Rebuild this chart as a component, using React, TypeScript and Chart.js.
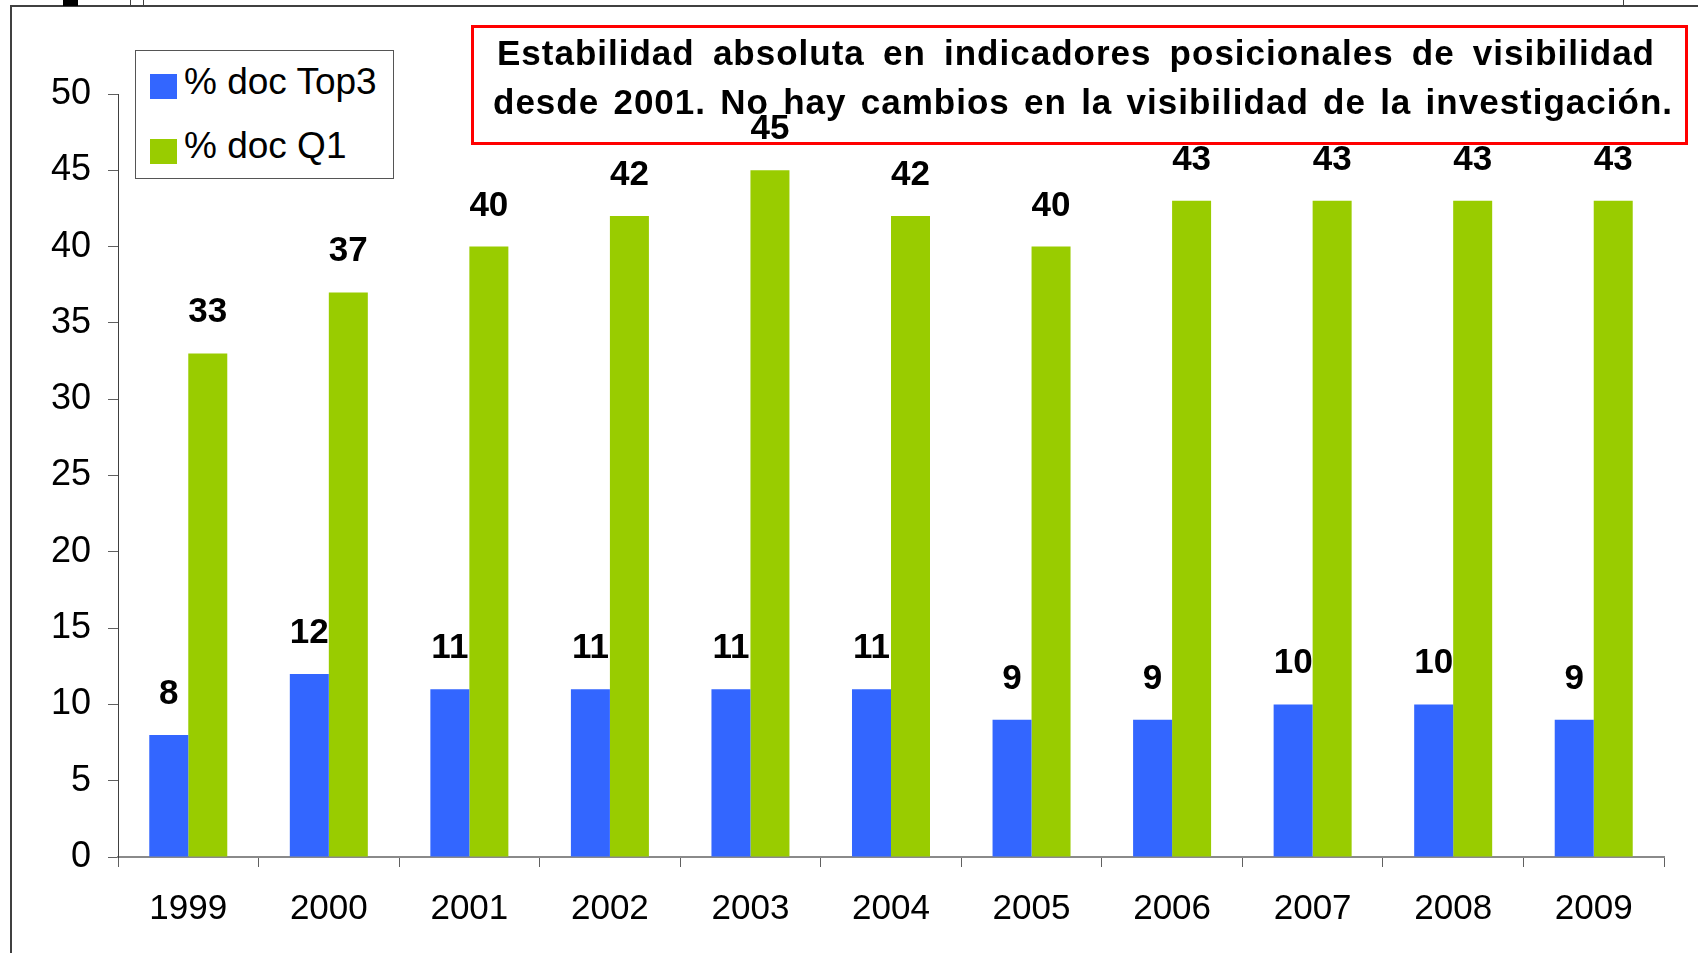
import React, { useEffect, useRef } from "react";
import { Chart, registerables } from "chart.js";

Chart.register(...registerables);

// ---- Data ----
const years = ["1999", "2000", "2001", "2002", "2003", "2004", "2005", "2006", "2007", "2008", "2009"];
const top3Values = [8, 12, 11, 11, 11, 11, 9, 9, 10, 10, 9];
const q1Values = [33, 37, 40, 42, 45, 42, 40, 43, 43, 43, 43];
const seriesNames = ["% doc Top3", "% doc Q1"];
const seriesColors = ["#3366FF", "#99CC00"];
const yMin = 0;
const yMax = 50;
const yStep = 5;
const titleLines = [
  "Estabilidad absoluta en indicadores posicionales de visibilidad",
  "desde 2001. No hay cambios en la visibilidad de la investigación.",
];

const FONT = '"Liberation Sans", Arial, sans-serif';

const valueLabels = {
  id: "valueLabels",
  afterDatasetsDraw(chart: any) {
    const ctx = chart.ctx;
    ctx.save();
    ctx.font = `bold 35px ${FONT}`;
    ctx.fillStyle = "#000";
    ctx.textAlign = "center";
    ctx.textBaseline = "alphabetic";
    chart.data.datasets.forEach((ds: any, i: number) => {
      const meta = chart.getDatasetMeta(i);
      meta.data.forEach((bar: any, j: number) => {
        ctx.fillText(String(ds.data[j]), bar.x, bar.y - 31);
      });
    });
    ctx.restore();
  },
};

export default function App() {
  const canvasRef = useRef<HTMLCanvasElement | null>(null);

  useEffect(() => {
    document.body.style.margin = "0";
    const canvas = canvasRef.current;
    if (!canvas) return;
    const chart = new Chart(canvas, {
      type: "bar",
      data: {
        labels: years,
        datasets: [
          {
            label: seriesNames[0],
            data: top3Values,
            backgroundColor: seriesColors[0],
            borderWidth: 0,
            categoryPercentage: 0.555,
            barPercentage: 1.0,
          },
          {
            label: seriesNames[1],
            data: q1Values,
            backgroundColor: seriesColors[1],
            borderWidth: 0,
            categoryPercentage: 0.555,
            barPercentage: 1.0,
          },
        ],
      },
      options: {
        animation: false,
        responsive: false,
        devicePixelRatio: 1,
        layout: { padding: { top: 94, right: 34, left: 0, bottom: 0 } },
        plugins: {
          legend: { display: false },
          title: { display: false },
          tooltip: { enabled: false },
        },
        scales: {
          x: {
            grid: {
              display: true,
              drawOnChartArea: false,
              drawTicks: true,
              tickLength: 10,
              color: "#606060",
              lineWidth: 1,
            },
            border: { display: true, color: "#8a8a8a", width: 2 },
            ticks: {
              color: "#000",
              font: { family: FONT, size: 35 },
              padding: 21,
              maxRotation: 0,
            },
            afterFit: (scale: any) => {
              scale.height = 96;
            },
          },
          y: {
            min: yMin,
            max: yMax,
            grid: {
              display: true,
              drawOnChartArea: false,
              drawTicks: true,
              tickLength: 10,
              color: "#606060",
              lineWidth: 1,
            },
            border: { display: true, color: "#404040", width: 1 },
            ticks: {
              stepSize: yStep,
              color: "#000",
              font: { family: FONT, size: 36 },
              padding: 17,
            },
            afterFit: (scale: any) => {
              scale.width = 118;
            },
          },
        },
      },
      plugins: [valueLabels],
    });
    return () => chart.destroy();
  }, []);

  const lineStyle: React.CSSProperties = {
    position: "absolute",
    fontFamily: FONT,
    fontWeight: "bold",
    fontSize: 35,
    lineHeight: "35px",
    letterSpacing: "1px",
    textAlign: "justify",
    textAlignLast: "justify" as any,
    color: "#000",
  };

  const legendText: React.CSSProperties = {
    position: "absolute",
    left: 48,
    fontFamily: FONT,
    fontSize: 37,
    lineHeight: "37px",
    color: "#000",
    whiteSpace: "nowrap",
  };

  return (
    <div
      style={{
        position: "fixed",
        left: 0,
        top: 0,
        width: 1698,
        height: 953,
        background: "#fff",
        overflow: "hidden",
      }}
    >
      <canvas ref={canvasRef} width={1698} height={953} style={{ position: "absolute", left: 0, top: 0, width: 1698, height: 953 }} />

      {/* slide frame fragments */}
      <div style={{ position: "absolute", left: 10, top: 5, width: 1688, height: 2, background: "#404040" }} />
      <div style={{ position: "absolute", left: 10, top: 5, width: 2, height: 948, background: "#404040" }} />
      <div style={{ position: "absolute", left: 63, top: 0, width: 15, height: 6, background: "#000" }} />
      <div style={{ position: "absolute", left: 130, top: 0, width: 1, height: 6, background: "#404040" }} />
      <div style={{ position: "absolute", left: 143, top: 0, width: 1, height: 6, background: "#404040" }} />
      <div style={{ position: "absolute", left: 1623, top: 0, width: 1, height: 6, background: "#404040" }} />

      {/* legend */}
      <div
        style={{
          position: "absolute",
          left: 135,
          top: 50,
          width: 259,
          height: 129,
          boxSizing: "border-box",
          border: "1px solid #555",
          background: "#fff",
        }}
      >
        <div style={{ position: "absolute", left: 14, top: 23, width: 27, height: 25, background: seriesColors[0] }} />
        <div style={{ ...legendText, top: 12 }}>{seriesNames[0]}</div>
        <div style={{ position: "absolute", left: 14, top: 88, width: 27, height: 25, background: seriesColors[1] }} />
        <div style={{ ...legendText, top: 76 }}>{seriesNames[1]}</div>
      </div>

      {/* annotation box */}
      <div
        style={{
          position: "absolute",
          left: 471,
          top: 25,
          width: 1217,
          height: 120,
          boxSizing: "border-box",
          border: "3px solid #FF0000",
        }}
      />
      <div style={{ ...lineStyle, left: 497, top: 35, width: 1158 }}>{titleLines[0]}</div>
      <div style={{ ...lineStyle, left: 493, top: 84, width: 1180 }}>{titleLines[1]}</div>
    </div>
  );
}
